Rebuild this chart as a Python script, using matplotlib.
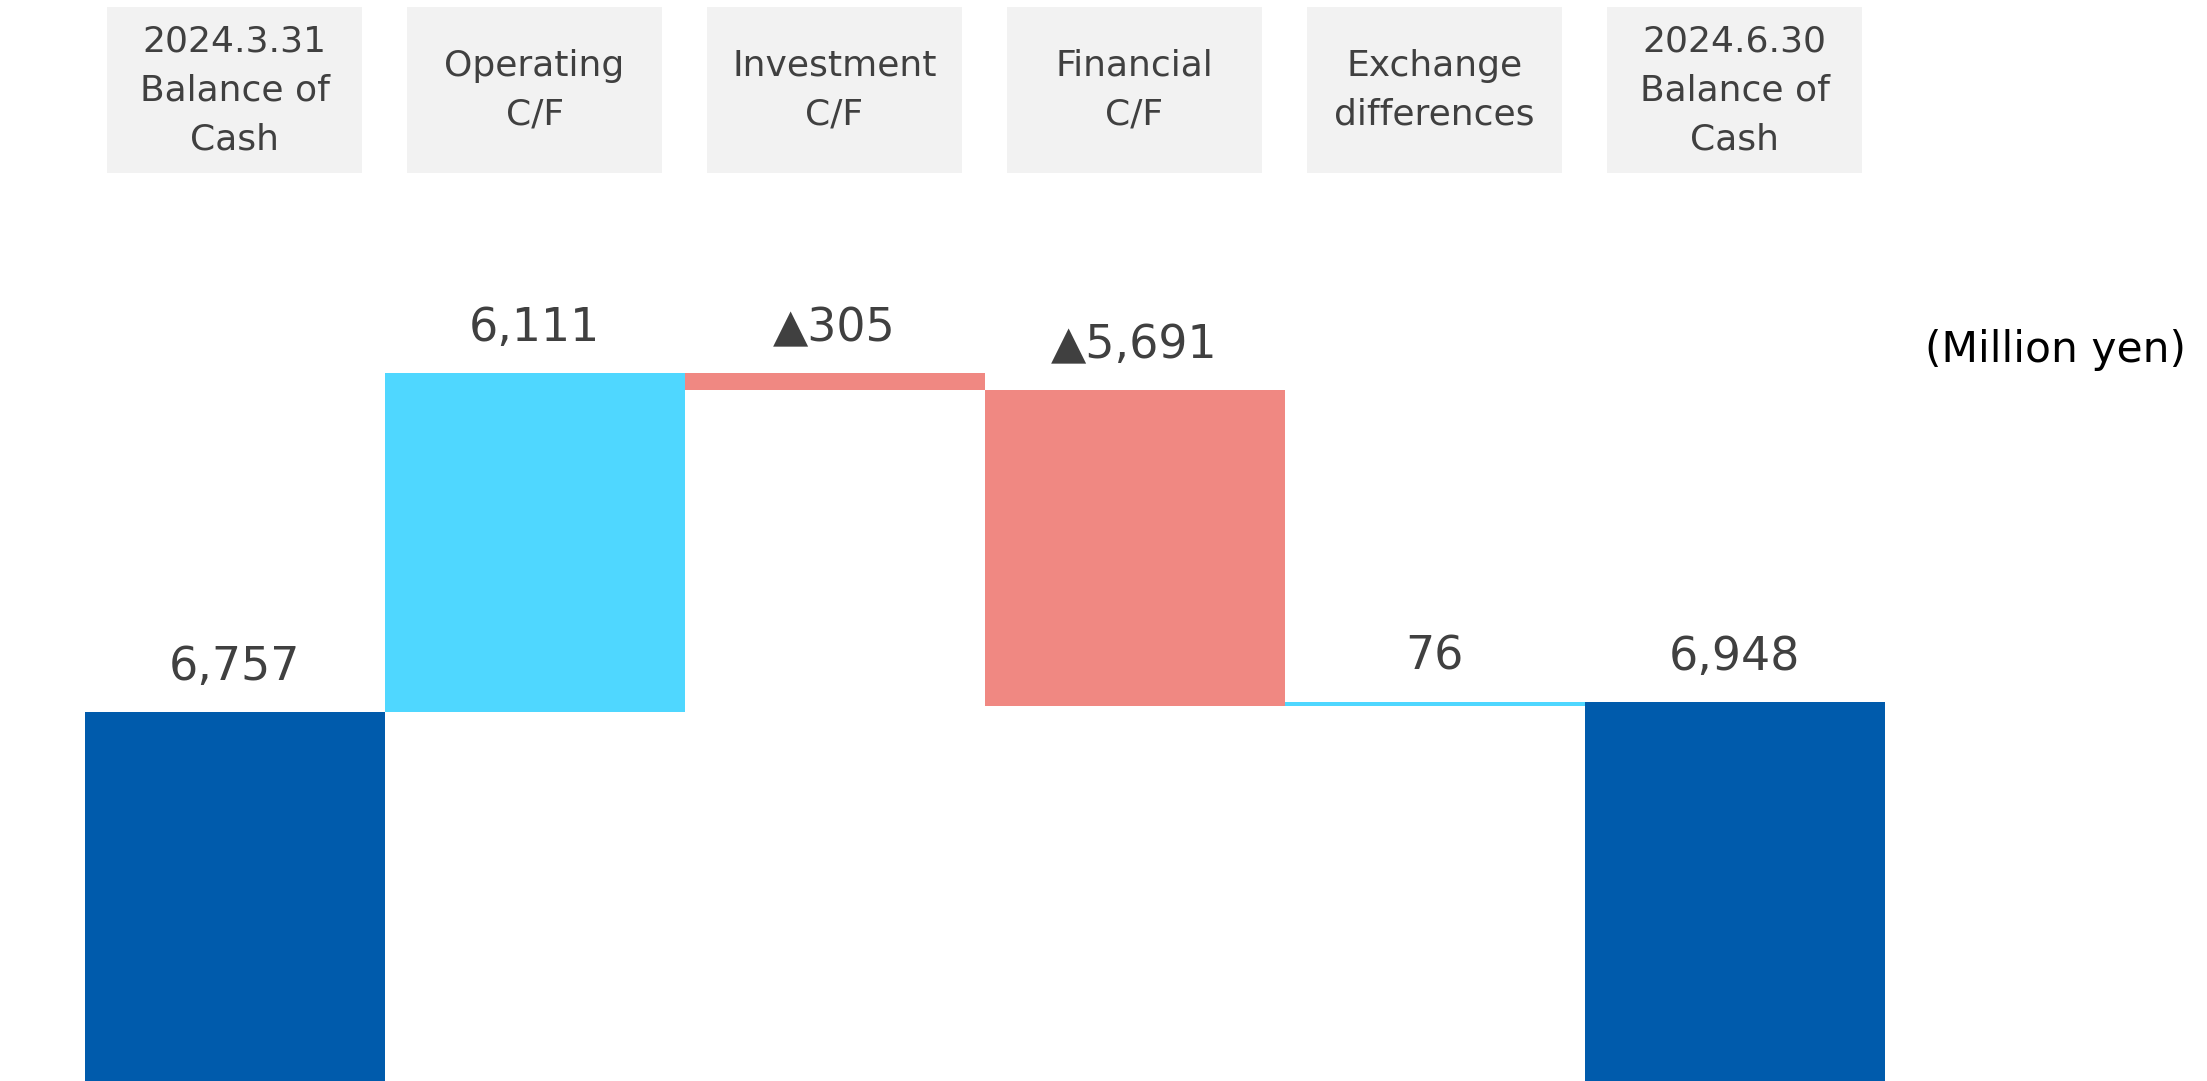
import numpy as np
import matplotlib
matplotlib.use('Agg')
import matplotlib.pyplot as plt
from matplotlib.patches import Rectangle

# data (million yen)
categories = ['2024.3.31\nBalance of\nCash', 'Operating\nC/F', 'Investment\nC/F',
              'Financial\nC/F', 'Exchange\ndifferences', '2024.6.30\nBalance of\nCash']
changes = [6757, 6111, -305, -5691, 76, 6948]
labels = ['6,757', '6,111', '▲305', '▲5,691', '76', '6,948']
is_total = [True, False, False, False, False, True]

C_TOTAL = '#005BAC'
C_UP = '#4FD7FF'
C_DOWN = '#F08882'
C_TEXT = '#404040'
C_BOX = '#F2F2F2'

plt.rcParams['font.family'] = ['DejaVu Sans']

fig = plt.figure(figsize=(22.07, 10.81), dpi=100)
ax = fig.add_axes([0, 0, 1, 1])

# waterfall bottoms / heights
bottoms, heights, colors = [], [], []
running = 0
for v, tot in zip(changes, is_total):
    if tot:
        bottoms.append(0)
        heights.append(v)
        colors.append(C_TOTAL)
        running = v
    else:
        if v >= 0:
            bottoms.append(running)
            colors.append(C_UP)
        else:
            bottoms.append(running + v)
            colors.append(C_DOWN)
        heights.append(abs(v))
        running += v

x = np.arange(len(changes))
ax.bar(x, heights, bottom=bottoms, width=1.0, color=colors, linewidth=0)

for xi, b, h, lab in zip(x, bottoms, heights, labels):
    ax.annotate(lab, xy=(xi, b + h), xytext=(0, 23), textcoords='offset points',
                ha='center', va='baseline', fontsize=33, color=C_TEXT)

# header boxes
trans = ax.get_xaxis_transform()
box_w = 0.85
for xi, cat in zip(x, categories):
    ax.add_patch(Rectangle((xi - box_w / 2, 0.840), box_w, 0.1535, transform=trans,
                           facecolor=C_BOX, edgecolor='none'))
    ax.text(xi, 0.9165, cat, transform=trans, ha='center', va='center',
            fontsize=26, color=C_TEXT, linespacing=1.55)

ax.text(0.9905, 0.665, '(Million yen)', transform=ax.transAxes, ha='right',
        va='baseline', fontsize=30.5, color='black')

ax.set_xlim(-0.782, 6.575)
ax.set_ylim(108, 19596)
ax.axis('off')

plt.savefig('out.png', dpi=100)
plt.close()
